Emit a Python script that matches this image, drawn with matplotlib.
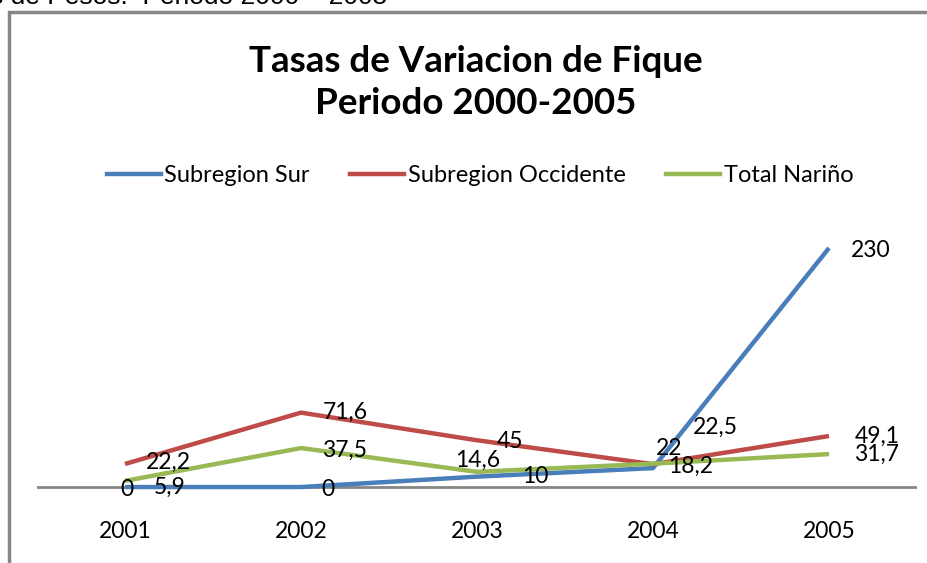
import matplotlib.pyplot as plt
from matplotlib.patches import Rectangle
from matplotlib.lines import Line2D

years = ['2001', '2002', '2003', '2004', '2005']
sur = [0, 0, 10, 18.2, 230]
occidente = [22.2, 71.6, 45, 22, 49.1]
total = [5.9, 37.5, 14.6, 22.5, 31.7]
series_names = ['Subregion Sur', 'Subregion Occidente', 'Total Nariño']

colors = ['#4A7EBB', '#BE4B48', '#98B954']

# label offsets in pixels (dx, dy) relative to each point
off_sur = [(2, -2), (27, -2), (58, 0), (38, 2), (42, -2)]
off_occ = [(43, 2), (44, 0), (33, -1), (16, 16), (48, 0)]
off_tot = [(45, -6), (44, -2), (1, 12), (62, 36), (48, 0)]

W, H = 928, 563
fig = plt.figure(figsize=(W / 100, H / 100), dpi=100)
fig.patch.set_facecolor('white')

# outer chart frame (cut by the image edges)
fig.patches.append(Rectangle((9 / W, -0.2), 1.2, 1.2 - 12 / H,
                             transform=fig.transFigure, fill=False,
                             edgecolor='#868686', lw=2.5))

# cropped caption at top-left
fig.text(-10 / W, 1 - 4 / H, 's de Pesos.  Periodo 2000 \u2013 2005',
         family='Liberation Sans', fontsize=19, va='baseline', ha='left')

# axes placement: x from 37 to 917 px, y from 240 to 510 px
ax = fig.add_axes([37 / W, (H - 510) / H, 880 / W, 270 / H])
ax.set_xlim(-0.5, 4.5)
ax.set_ylim(-22.1, 237.7)
for s in ax.spines.values():
    s.set_visible(False)
ax.axhline(0, color='#868686', lw=2, zorder=1)
ax.set_yticks([])
x = list(range(len(years)))
ax.set_xticks(x)
ax.set_xticklabels(years, family='Lato', fontsize=16.5)
ax.tick_params(axis='x', length=0, pad=8)

font = dict(family='Lato', fontsize=16.5, color='black')
for vals, c, offs in [(sur, colors[0], off_sur), (occidente, colors[1], off_occ),
                      (total, colors[2], off_tot)]:
    ax.plot(x, vals, color=c, lw=3.2, solid_capstyle='butt', zorder=3)
    for xi, v, (dx, dy) in zip(x, vals, offs):
        lab = ('%g' % v).replace('.', ',')
        ax.annotate(lab, (xi, v), xytext=(dx, dy), textcoords='offset pixels',
                    ha='center', va='center', zorder=5, **font)

fig.text(476 / W, 1 - 62 / H, 'Tasas de Variacion de Fique', family='Lato',
         weight='bold', fontsize=26.5, ha='center', va='center')
fig.text(476 / W, 1 - 104 / H, 'Periodo 2000-2005', family='Lato',
         weight='bold', fontsize=26.5, ha='center', va='center')

handles = [Line2D([], [], color=c, lw=3.2) for c in colors]
fig.legend(handles, series_names, loc='center', bbox_to_anchor=(480 / W, 1 - 176 / H),
           ncol=3, frameon=False, prop={'family': 'Lato', 'size': 17},
           handlelength=2.3, handletextpad=0.15, columnspacing=1.7)

fig.savefig('out.png', dpi=100)
